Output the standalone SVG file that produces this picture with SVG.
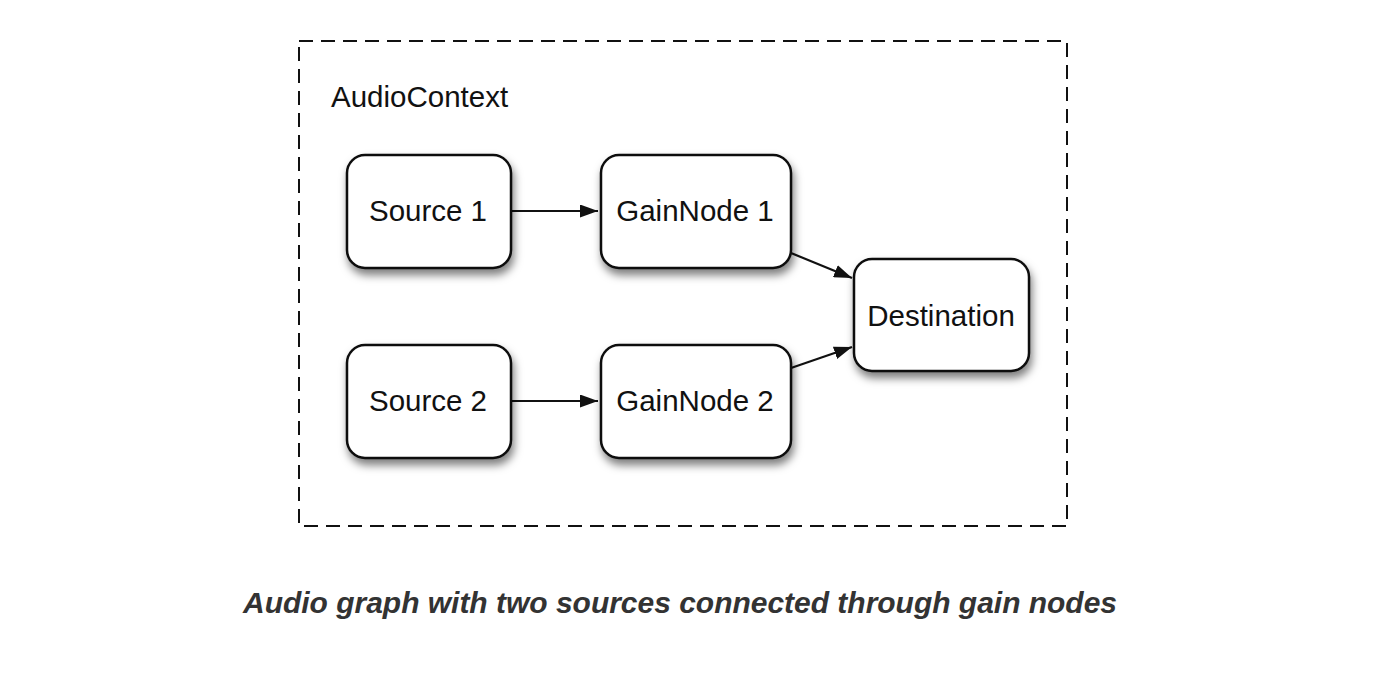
<svg xmlns="http://www.w3.org/2000/svg" width="1388" height="678" viewBox="0 0 1388 678">
<style>
.box{fill:#fff;stroke:#111;stroke-width:2.5;filter:url(#sh)}
.lbl{font-family:"Liberation Sans",Arial,sans-serif;font-size:29.5px;fill:#111;text-anchor:middle}
.edge{stroke:#111;stroke-width:2.2;fill:none;marker-end:url(#ah)}
</style>
<defs>
<filter id="sh" x="-20%" y="-20%" width="150%" height="160%">
<feDropShadow dx="2" dy="6" stdDeviation="4.5" flood-color="#000" flood-opacity="0.5"/>
</filter>
<marker id="ah" viewBox="0 0 18 13" refX="18" refY="6.5" markerWidth="18" markerHeight="13" markerUnits="userSpaceOnUse" orient="auto">
<path d="M0,0 L18,6.5 L0,13 z" fill="#111"/>
</marker>
</defs>
<rect width="1388" height="678" fill="#fff"/>
<g id="audiocontext">
<rect x="299" y="41" width="768" height="485" fill="none" stroke="#111" stroke-width="2" stroke-dasharray="14,8"/>
<text x="331" y="107" class="lbl" style="text-anchor:start">AudioContext</text>
</g>
<g id="connectors">
<line class="edge" x1="511" y1="211" x2="598" y2="211"/>
<line class="edge" x1="511" y1="401" x2="598" y2="401"/>
<line class="edge" x1="791" y1="253" x2="852" y2="278"/>
<line class="edge" x1="791" y1="368" x2="852" y2="347"/>
</g>
<g id="source1">
<rect class="box" x="347" y="155" width="164" height="113" rx="18"/>
<text class="lbl" x="428" y="221">Source 1</text>
</g>
<g id="gainnode1">
<rect class="box" x="601" y="155" width="190" height="113" rx="18"/>
<text class="lbl" x="695" y="221">GainNode 1</text>
</g>
<g id="source2">
<rect class="box" x="347" y="345" width="164" height="113" rx="18"/>
<text class="lbl" x="428" y="411">Source 2</text>
</g>
<g id="gainnode2">
<rect class="box" x="601" y="345" width="190" height="113" rx="18"/>
<text class="lbl" x="695" y="411">GainNode 2</text>
</g>
<g id="destination">
<rect class="box" x="854" y="259" width="175" height="112" rx="18"/>
<text class="lbl" x="941" y="326">Destination</text>
</g>
<text x="680" y="613" text-anchor="middle" font-family="'Liberation Sans',Arial,sans-serif" font-size="29" font-weight="bold" font-style="italic" fill="#333" textLength="874" lengthAdjust="spacingAndGlyphs">Audio graph with two sources connected through gain nodes</text>
</svg>
